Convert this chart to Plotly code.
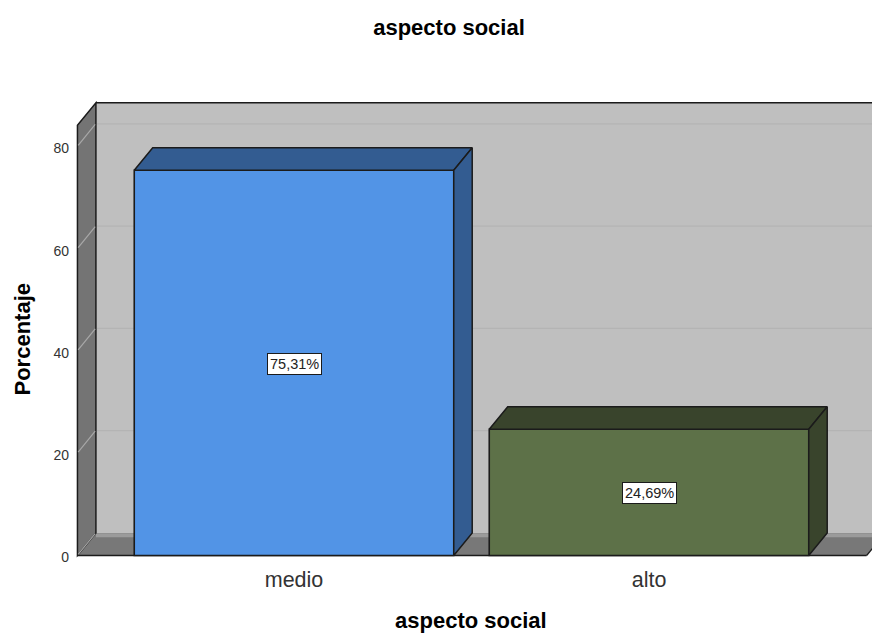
import plotly.graph_objects as go

categories = ["medio", "alto"]
values = [75.31, 24.69]
value_labels = ["75,31%", "24,69%"]
y_ticks = [0, 20, 40, 60, 80]
chart_title = "aspecto social"
x_title = "aspecto social"
y_title = "Porcentaje"

front_colors = ["#5294e6", "#5d7148"]
side_colors = ["#335c91", "#39442c"]
EDGE = "#1b1b1b"
BAR_W = 0.9
DX = 0.052   # depth of the 3D effect, in x units
DY = 4.4     # depth of the 3D effect, in y units
X0, X1 = -0.61, 1.613
YTOP = 84.1
FONT = "Liberation Sans"
W, H = 872, 633

positions = list(range(len(categories)))
shapes = []


def poly(xs, ys, fill, line=EDGE, width=1.5, layer="below"):
    path = "M" + " L".join(f"{x},{y}" for x, y in zip(xs, ys)) + " Z"
    return dict(type="path", path=path, fillcolor=fill, layer=layer,
                line=dict(color=line, width=width), xref="x", yref="y")


def seg(x0, y0, x1, y1, color, width=1.0):
    return dict(type="line", x0=x0, y0=y0, x1=x1, y1=y1, layer="below",
                line=dict(color=color, width=width), xref="x", yref="y")


# back wall, floor, left wall
shapes.append(poly([X0 + DX, 1.75, 1.75, X0 + DX],
                   [DY, DY, YTOP + DY, YTOP + DY], "#bfbfbf", line="#bfbfbf", width=0))
shapes.append(seg(X0 + DX, YTOP + DY, 1.75, YTOP + DY, EDGE, 1.5))
shapes.append(poly([X0, X1, X1 + DX, X0 + DX], [0, 0, DY, DY], "#787878", line="#787878", width=0))
shapes.append(seg(X0 + DX, DY - 0.45, 1.75, DY - 0.45, "#9b9b9b", 4))
shapes.append(seg(X0, 0, X1, 0, EDGE, 1.5))
shapes.append(seg(X1, 0, X1 + DX, DY, EDGE, 1.2))
shapes.append(poly([X0, X0 + DX, X0 + DX, X0],
                   [0, DY, YTOP + DY, YTOP], "#747474"))
for t in y_ticks:
    if t > 0:
        shapes.append(seg(X0 + DX + 0.003, t + DY, 1.75, t + DY, "#b4b4b4", 1.2))
    shapes.append(seg(X0 + 0.002, t + 0.2, X0 + DX - 0.002, t + DY - 0.1, "#a8a8a8", 1.2))

fig = go.Figure()
fig.add_trace(go.Bar(
    x=positions, y=values, width=BAR_W, cliponaxis=False, showlegend=False,
    marker=dict(color=front_colors, line=dict(color=EDGE, width=1.6)),
))

for p, v, side in zip(positions, values, side_colors):
    left, right = p - BAR_W / 2, p + BAR_W / 2
    # top face
    fig.add_trace(go.Scatter(
        x=[left, right, right + DX, left + DX, left],
        y=[v, v, v + DY, v + DY, v],
        mode="lines", fill="toself", fillcolor=side, showlegend=False,
        line=dict(color=EDGE, width=1.5), hoverinfo="skip"))
    # right face
    fig.add_trace(go.Scatter(
        x=[right, right + DX, right + DX, right, right],
        y=[0, DY, v + DY, v, 0],
        mode="lines", fill="toself", fillcolor=side, showlegend=False,
        line=dict(color=EDGE, width=1.5), hoverinfo="skip"))

annotations = [
    dict(x=p, y=v / 2, yshift=-1, text=lab, showarrow=False, xref="x", yref="y",
         font=dict(family=FONT, size=14.5, color="#222222"), bgcolor="#ffffff",
         bordercolor="#1b1b1b", borderwidth=1, borderpad=2)
    for p, v, lab in zip(positions, values, value_labels)
]
title_font = dict(family=FONT, size=22, color="#000000")
annotations.append(dict(xref="paper", yref="paper", x=(471 - 72) / 800, y=1 - (620.3 - 100) / 458,
                        text=f"<b>{x_title}</b>", showarrow=False, yanchor="middle",
                        xanchor="center", font=title_font))
annotations.append(dict(xref="paper", yref="paper", x=(22 - 72) / 800, y=1 - (339.5 - 100) / 458,
                        text=f"<b>{y_title}</b>", showarrow=False, textangle=-90,
                        yanchor="middle", xanchor="center", font=title_font))

fig.update_layout(
    width=W, height=H, autosize=False,
    margin=dict(l=72, r=0, t=100, b=75),
    paper_bgcolor="#ffffff", plot_bgcolor="#ffffff",
    font=dict(family=FONT, color="#000000"),
    title=dict(text=f"<b>{chart_title}</b>", x=449 / W, xanchor="center",
               y=1 - 27 / H, yanchor="middle", font=title_font),
    shapes=shapes, annotations=annotations, showlegend=False,
    xaxis=dict(range=[(72 - 294) / 355, (872 - 294) / 355],
               tickvals=positions, ticktext=categories, ticks="", showgrid=False,
               zeroline=False, showline=False, ticklabelstandoff=6,
               tickfont=dict(family=FONT, size=21.5, color="#333333")),
    yaxis=dict(range=[-2.5 / 5.115, 455.5 / 5.115],
               tickvals=y_ticks, ticks="", showgrid=False, zeroline=False,
               showline=False, ticklabelstandoff=2, ticklabelshift=2,
               tickfont=dict(family=FONT, size=14, color="#333333")),
)

fig.write_html("out.html", config=dict(displayModeBar=False),
               post_script="document.body.style.margin='0';document.body.style.overflow='hidden';")
